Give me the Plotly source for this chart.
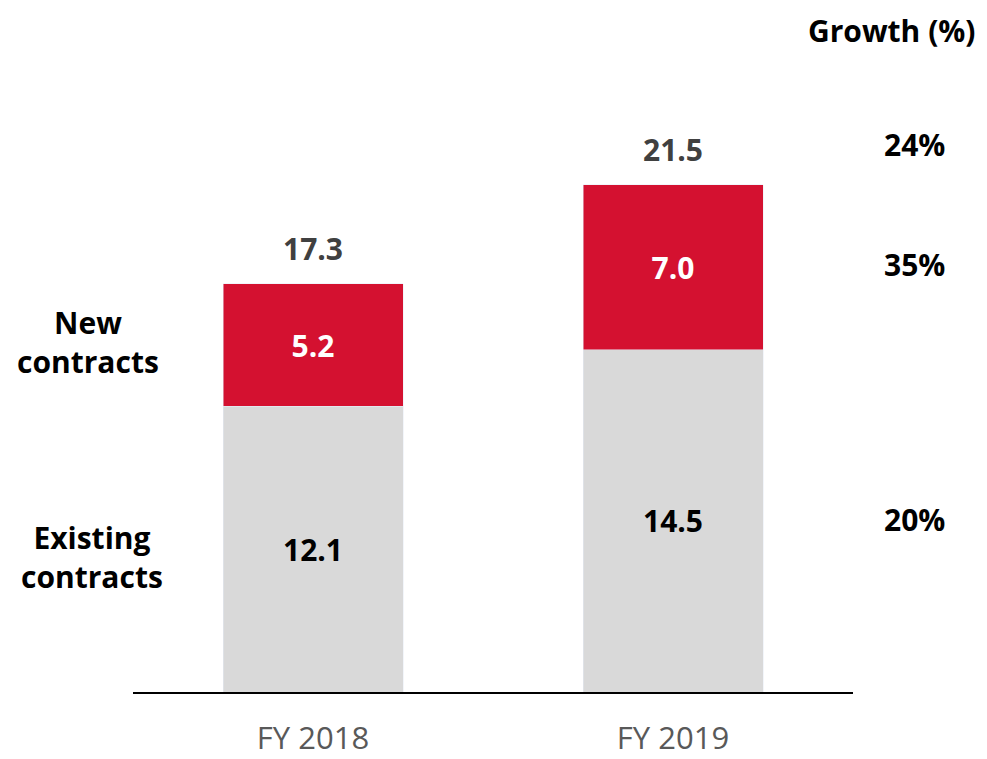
import plotly.graph_objects as go

categories = ["FY 2018", "FY 2019"]
existing = [12.1, 14.5]
new = [5.2, 7.0]
totals = [17.3, 21.5]
growth_labels = ["24%", "35%", "20%"]

FONT = "Open Sans"
RED = "#D41130"
GREY = "#D9D9D9"
BSIZE = 30

fig = go.Figure()
fig.add_trace(go.Bar(
    x=categories, y=existing, marker_color=GREY, width=0.5,
    text=[f"{v:.1f}" for v in existing], textposition="inside",
    insidetextanchor="middle", textangle=0, constraintext="none",
    textfont=dict(family=FONT, size=BSIZE, color="#000000", weight="bold"),
    hoverinfo="skip", showlegend=False,
))
fig.add_trace(go.Bar(
    x=categories, y=new, marker_color=RED, width=0.5,
    text=[f"{v:.1f}" for v in new], textposition="inside",
    insidetextanchor="middle", textangle=0, constraintext="none",
    textfont=dict(family=FONT, size=BSIZE, color="#FFFFFF", weight="bold"),
    hoverinfo="skip", showlegend=False,
))

annotations = []
for c, t in zip(categories, totals):
    annotations.append(dict(x=c, y=t, xref="x", yref="y", text=f"{t:.1f}",
                            showarrow=False, yanchor="middle", yshift=35,
                            font=dict(family=FONT, size=BSIZE, color="#404040", weight="bold")))

annotations.append(dict(x=1.054, y=1.110, xref="paper", yref="paper", text="Growth (%)",
                        showarrow=False, xanchor="center", yanchor="middle",
                        font=dict(family=FONT, size=BSIZE, color="#000000", weight="bold")))
for lbl, yp in zip(growth_labels, [0.919, 0.718, 0.289]):
    annotations.append(dict(x=1.086, y=yp, xref="paper", yref="paper", text=lbl,
                            showarrow=False, xanchor="center", yanchor="middle",
                            font=dict(family=FONT, size=BSIZE, color="#000000", weight="bold")))
annotations.append(dict(x=-0.0625, y=0.588, xref="paper", yref="paper", text="New<br>contracts",
                        showarrow=False, xanchor="center", yanchor="middle", align="center",
                        font=dict(family=FONT, size=BSIZE, color="#000000", weight="bold")))
annotations.append(dict(x=-0.057, y=0.227, xref="paper", yref="paper", text="Existing<br>contracts",
                        showarrow=False, xanchor="center", yanchor="middle", align="center",
                        font=dict(family=FONT, size=BSIZE, color="#000000", weight="bold")))

fig.update_layout(
    barmode="stack",
    width=987, height=759,
    margin=dict(l=125, r=142, t=88, b=75),
    paper_bgcolor="white", plot_bgcolor="white",
    annotations=annotations,
    xaxis=dict(showline=True, linecolor="#000000", linewidth=2, ticks="",
               tickfont=dict(family=FONT, size=31, color="#595959"),
               ticklabelstandoff=18, range=[-0.5, 1.5], automargin=False),
    yaxis=dict(visible=False, range=[0, 596 / 23.6], showgrid=False, automargin=False),
)

fig.write_html("out.html")
